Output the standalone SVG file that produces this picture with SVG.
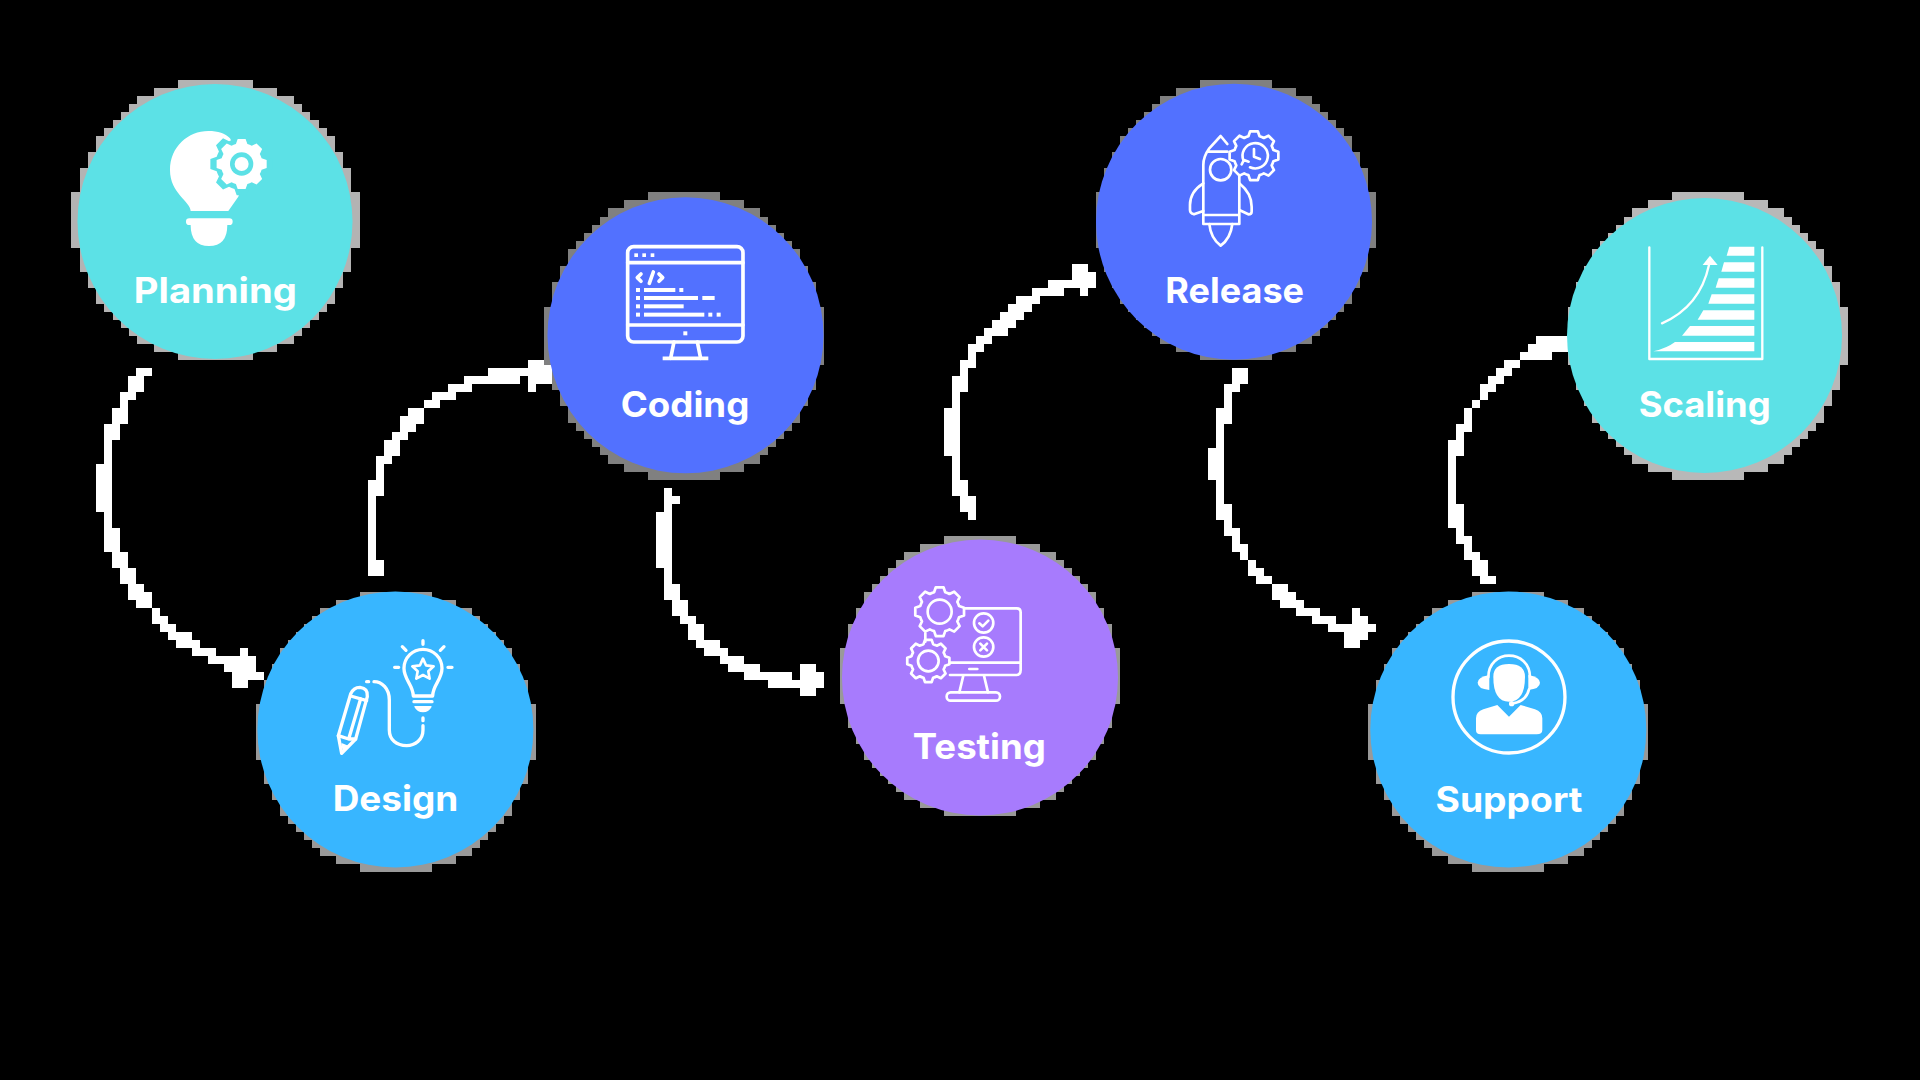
<svg xmlns="http://www.w3.org/2000/svg" xmlns:xlink="http://www.w3.org/1999/xlink" width="1920" height="1080" viewBox="0 0 1920 1080">
<style>
.lbl{font-family:"Inter","Liberation Sans",sans-serif;font-weight:700;font-size:35px;fill:#fff;text-anchor:middle}
.conn{fill:#fff;shape-rendering:crispEdges}
.halo{shape-rendering:crispEdges}
.ln{fill:none;stroke:#fff;stroke-linecap:round;stroke-linejoin:round}
.sq{fill:#fff}
.teal{fill:#5CE1E6}.sky{fill:#38B6FF}.blue{fill:#5271FF}.purple{fill:#A77BFD}
</style>
<defs>
<path id="halo" d="M-36-140H36V-132H60V-124H76V-116H84V-108H92V-100H100V-92H108V-84H116V-68H124V-52H132V-28H140V28H132V52H124V68H116V84H108V92H100V100H92V108H84V116H76V124H60V132H36V140H-36V132H-60V124H-76V116H-84V108H-92V100H-100V92H-108V84H-116V68H-124V52H-132V28H-140V-28H-132V-52H-124V-68H-116V-84H-108V-92H-100V-100H-92V-108H-84V-116H-76V-124H-60V-132H-36Z"/>
<path id="gear" vector-effect="non-scaling-stroke" d="M78.8-22.6L98.8-15.6V15.6L78.8 22.6Q76 32 71.7 39.8L80.9 58.8L58.8 80.9L39.8 71.7Q32 76 22.6 78.8L15.6 98.8H-15.6L-22.6 78.8Q-32 76-39.8 71.7L-58.8 80.9L-80.9 58.8L-71.7 39.8Q-76 32-78.8 22.6L-98.8 15.6V-15.6L-78.8-22.6Q-76-32-71.7-39.8L-80.9-58.8L-58.8-80.9L-39.8-71.7Q-32-76-22.6-78.8L-15.6-98.8H15.6L22.6-78.8Q32-76 39.8-71.7L58.8-80.9L80.9-58.8L71.7-39.8Q76-32 78.8-22.6Z"/>
</defs>
<rect width="1920" height="1080" fill="#000"/>
<g id="connectors">
<path id="c-planning-design" class="conn" d="M136 368h16v8h-16zM128 376h16v16h-16zM120 392h16v8h-16zM120 400h8v8h-8zM112 408h16v16h-16zM104 424h16v16h-16zM104 440h8v24h-8zM96 464h16v48h-16zM104 512h8v16h-8zM104 528h16v24h-16zM112 552h16v16h-16zM120 568h16v16h-16zM128 584h16v8h-16zM128 592h24v8h-24zM136 600h16v8h-16zM152 608h8v8h-8zM152 616h16v8h-16zM160 624h16v8h-16zM168 632h24v8h-24zM176 640h24v8h-24zM192 648h24v8h-24zM240 648h8v8h-8zM208 656h48v8h-48zM224 664h32v8h-32zM232 672h32v8h-32zM232 680h16v8h-16z"/>
<path id="c-design-coding" class="conn" d="M528 360h24v8h-24zM488 368h64v8h-64zM464 376h56v8h-56zM528 376h24v8h-24zM448 384h24v8h-24zM528 384h8v8h-8zM432 392h24v8h-24zM424 400h16v8h-16zM408 408h16v8h-16zM400 416h24v8h-24zM400 424h16v8h-16zM392 432h16v8h-16zM384 440h16v16h-16zM376 456h16v8h-16zM376 464h8v16h-8zM368 480h16v16h-16zM368 496h8v64h-8zM368 560h16v16h-16z"/>
<path id="c-coding-testing" class="conn" d="M664 488h8v8h-8zM664 496h16v8h-16zM664 504h8v8h-8zM656 512h16v56h-16zM664 568h8v16h-8zM664 584h16v16h-16zM672 600h16v16h-16zM680 616h16v8h-16zM688 624h16v16h-16zM696 640h24v8h-24zM704 648h24v8h-24zM720 656h24v8h-24zM728 664h32v8h-32zM800 664h16v8h-16zM744 672h48v8h-48zM800 672h24v8h-24zM768 680h56v8h-56zM800 688h16v8h-16z"/>
<path id="c-testing-release" class="conn" d="M1072 264h16v8h-16zM1072 272h24v8h-24zM1048 280h48v8h-48zM1032 288h32v8h-32zM1080 288h8v8h-8zM1016 296h24v8h-24zM1008 304h24v8h-24zM1000 312h24v8h-24zM992 320h24v8h-24zM984 328h24v8h-24zM976 336h16v8h-16zM968 344h16v8h-16zM968 352h8v8h-8zM960 360h16v8h-16zM960 368h8v8h-8zM952 376h16v16h-16zM952 392h8v16h-8zM944 408h16v48h-16zM952 456h8v24h-8zM952 480h16v16h-16zM960 496h16v16h-16zM968 512h8v8h-8z"/>
<path id="c-release-support" class="conn" d="M1232 368h16v16h-16zM1224 384h16v8h-16zM1224 392h8v16h-8zM1216 408h16v16h-16zM1216 424h8v24h-8zM1208 448h16v32h-16zM1216 480h8v24h-8zM1216 504h16v16h-16zM1224 520h8v8h-8zM1224 528h16v8h-16zM1232 536h8v8h-8zM1232 544h16v8h-16zM1240 552h8v8h-8zM1248 560h8v8h-8zM1248 568h16v8h-16zM1256 576h16v8h-16zM1272 584h16v8h-16zM1272 592h24v8h-24zM1280 600h24v8h-24zM1296 608h24v8h-24zM1352 608h8v8h-8zM1312 616h24v8h-24zM1352 616h16v8h-16zM1328 624h48v8h-48zM1344 632h24v8h-24zM1344 640h16v8h-16z"/>
<path id="c-support-scaling" class="conn" d="M1536 336h32v8h-32zM1528 344h40v8h-40zM1520 352h32v8h-32zM1504 360h16v8h-16zM1496 368h16v8h-16zM1488 376h16v8h-16zM1480 384h16v8h-16zM1480 392h8v8h-8zM1472 400h8v8h-8zM1464 408h8v16h-8zM1456 424h16v8h-16zM1456 432h8v8h-8zM1448 440h16v16h-16zM1448 456h8v48h-8zM1448 504h16v24h-16zM1456 528h8v8h-8zM1456 536h16v8h-16zM1464 544h8v8h-8zM1464 552h16v8h-16zM1472 560h16v16h-16zM1480 576h16v8h-16z"/>
</g>
<g id="planning">
<use href="#halo" class="halo" transform="translate(215.5 220) scale(1.03 1)" fill="#b3b3b3"/>
<circle class="teal" cx="215" cy="221.5" r="137.5"/>
<g transform="translate(60 70) scale(.3333)">
<path fill="#fff" d="M392 423C392 395 330 370 330 300C330 230 385 183 445 183C475 183 495 190 510 205L560 300L535 380L505 423Z"/>
<use href="#gear" class="teal" transform="translate(545 282) scale(.95)"/>
<use href="#gear" fill="#fff" transform="translate(545 282) scale(.76)"/>
<circle class="teal" cx="545" cy="282" r="35"/>
<circle fill="#fff" cx="545" cy="282" r="21"/>
<path class="ln" stroke-width="20" d="M388 455H508"/>
<path fill="#fff" d="M392 465H502Q502 528 447 528Q392 528 392 465Z"/>
</g>
<text class="lbl" x="215.3" y="303" textLength="163" lengthAdjust="spacingAndGlyphs">Planning</text>
</g>
<g id="design">
<use href="#halo" class="halo" transform="translate(396 732)" fill="#999"/>
<circle class="sky" cx="395.4" cy="729.5" r="138"/>
<g transform="translate(250 590) scale(.3333)" class="ln" stroke-width="10">
<path d="M490 318C490 285 462 270 462 235A57 57 0 1 1 576 235C576 270 548 285 548 318Z"/>
<path d="M492 335H546"/>
<path fill="#fff" stroke-width="4" d="M495 350H543Q535 365 519 365Q503 365 495 350Z"/>
<path stroke-width="8" d="M519 206L528 226L551 229L535 244L539 266L519 255L499 266L503 244L487 229L510 226Z"/>
<path d="M519 152V163M457 170L468 181M582 170L571 181M434 232H446M594 232H606M519 384V392"/>
<path d="M519 407V420C519 450 495 467 470 467C440 467 418 450 418 420V330C418 295 395 275 372 275M350 275H356"/>
<path d="M302 312Q310 292 330 292Q355 295 352 320L317 447L275 490L265 437Z"/>
<path d="M302 318L350 332M332 326L296 447M265 437L296 447L317 447"/>
<path fill="#fff" stroke-width="4" d="M276 462L296 470L280 482Z"/>
</g>
<text class="lbl" x="395.5" y="811" textLength="125.6" lengthAdjust="spacingAndGlyphs">Design</text>
</g>
<g id="coding">
<use href="#halo" class="halo" transform="translate(684 336) scale(1 1.03)" fill="#808080"/>
<circle class="blue" cx="685.5" cy="335.3" r="138"/>
<g transform="translate(540 190) scale(.3333)">
<g class="ln" stroke-width="11">
<rect x="263" y="170" width="346" height="286" rx="18"/>
<path d="M263 218H609M263 405H609M402 456L392 505M472 456L482 505"/>
<path stroke-linecap="butt" d="M368 505H505"/>
<path d="M303 252L292 263L303 274M340 246L328 280M357 252L368 263L357 274"/>
</g>
<g class="sq">
<rect x="283" y="190" width="11" height="11"/><rect x="307" y="190" width="11" height="11"/><rect x="332" y="190" width="11" height="11"/>
<rect x="288" y="294" width="12" height="12"/><rect x="312" y="294" width="94" height="12"/><rect x="418" y="294" width="12" height="12"/>
<rect x="288" y="318" width="12" height="12"/><rect x="312" y="318" width="162" height="12"/><rect x="487" y="318" width="37" height="12"/>
<rect x="288" y="343" width="12" height="12"/><rect x="312" y="343" width="119" height="12"/>
<rect x="288" y="368" width="12" height="12"/><rect x="312" y="368" width="181" height="12"/><rect x="505" y="368" width="12" height="12"/><rect x="530" y="368" width="12" height="12"/>
<rect x="430" y="424" width="12" height="12"/>
</g>
</g>
<text class="lbl" x="685" y="417" textLength="128.6" lengthAdjust="spacingAndGlyphs">Coding</text>
</g>
<g id="testing">
<use href="#halo" class="halo" transform="translate(980 676)" fill="#999"/>
<circle class="purple" cx="980" cy="677.5" r="138"/>
<g transform="translate(840 530) scale(.3333)" class="ln" stroke-width="8">
<path d="M372 235H530Q542 235 542 247V420Q542 435 528 435H330M332 398H542M388 417H412M370 437L358 487M432 437L444 487M256 310V335"/>
<rect x="320" y="487" width="160" height="25" rx="12"/>
<circle cx="431" cy="279" r="29"/><circle cx="431" cy="351" r="29"/>
<path d="M418 280L428 289L445 272M421 341L441 361M441 341L421 361"/>
<circle cx="299" cy="245" r="36"/><circle cx="265" cy="393" r="31"/>
<use href="#gear" stroke-width="2.7" transform="translate(299 245) scale(.74)"/>
<use href="#gear" stroke-width="2.7" transform="translate(265 393) scale(.64)"/>
</g>
<text class="lbl" x="979.3" y="759" textLength="133" lengthAdjust="spacingAndGlyphs">Testing</text>
</g>
<g id="release">
<use href="#halo" class="halo" transform="translate(1236 220)" fill="#808080"/>
<circle class="blue" cx="1234" cy="221.7" r="138"/>
<g transform="translate(1090 75) scale(.3333)" class="ln" stroke-width="8">
<path d="M412 207L392 183L358 220Q340 245 340 270V447H448V300M352 230H412M340 420H448"/>
<circle cx="392" cy="284" r="32"/>
<path d="M340 325Q300 350 300 390V405Q300 415 312 418L340 408M448 325Q485 355 485 395V410Q485 418 475 418L448 405M358 447Q362 490 392 512Q422 490 427 447"/>
<use href="#gear" stroke-width="2.7" transform="translate(492 242) scale(.74)"/>
<path d="M461 258A38 38 0 1 1 480 277M492 222V245L510 252M455 268L462 255L476 260"/>
</g>
<text class="lbl" x="1234.7" y="303" textLength="138.7" lengthAdjust="spacingAndGlyphs">Release</text>
</g>
<g id="support">
<use href="#halo" class="halo" transform="translate(1508 732)" fill="#999"/>
<circle class="sky" cx="1508.3" cy="729.5" r="138"/>
<g transform="translate(1360 590) scale(.3333)">
<circle class="ln" stroke-width="10" cx="447" cy="321" r="168"/>
<path class="ln" stroke-width="8" d="M385 262C385 220 415 197 447 197C480 197 510 220 510 262M507 298Q498 335 455 341"/>
<g class="sq">
<path d="M400 260Q400 222 447 222Q495 222 495 260Q495 335 447 335Q400 335 400 260Z"/>
<path d="M388 255Q353 262 353 278Q353 296 388 300Z"/>
<path d="M505 255Q540 262 540 278Q540 296 505 300Z"/>
<circle cx="455" cy="341" r="8"/>
<path d="M348 385Q348 365 370 358L412 345L447 380L482 345L525 358Q547 365 547 385V420Q547 433 530 433H362Q348 433 348 420Z"/>
</g>
</g>
<text class="lbl" x="1509" y="811.5" textLength="147" lengthAdjust="spacingAndGlyphs">Support</text>
</g>
<g id="scaling">
<use href="#halo" class="halo" transform="translate(1708 336) scale(1 1.03)" fill="#b8b8b8"/>
<circle class="teal" cx="1704.5" cy="335.5" r="137.5"/>
<g transform="translate(1560 190) scale(.3333)">
<path class="ln" stroke-linecap="butt" stroke-linejoin="miter" stroke-width="7" d="M268 172V507H607V172"/>
<path class="ln" stroke-width="7" d="M306 400Q420 350 447 225"/>
<g class="sq">
<path d="M428 225L450 197L473 225Z"/>
<path d="M508 170H583V197H500Z"/><path d="M492 217H583V245H484Z"/><path d="M476 265H583V293H467Z"/><path d="M455 313H583V341H445Z"/><path d="M430 361H583V389H413Z"/><path d="M390 408H583V437H366Z"/>
<path d="M345 456H583V484H280Q320 475 345 456Z"/>
</g>
</g>
<text class="lbl" x="1704.7" y="417" textLength="132" lengthAdjust="spacingAndGlyphs">Scaling</text>
</g>
</svg>
